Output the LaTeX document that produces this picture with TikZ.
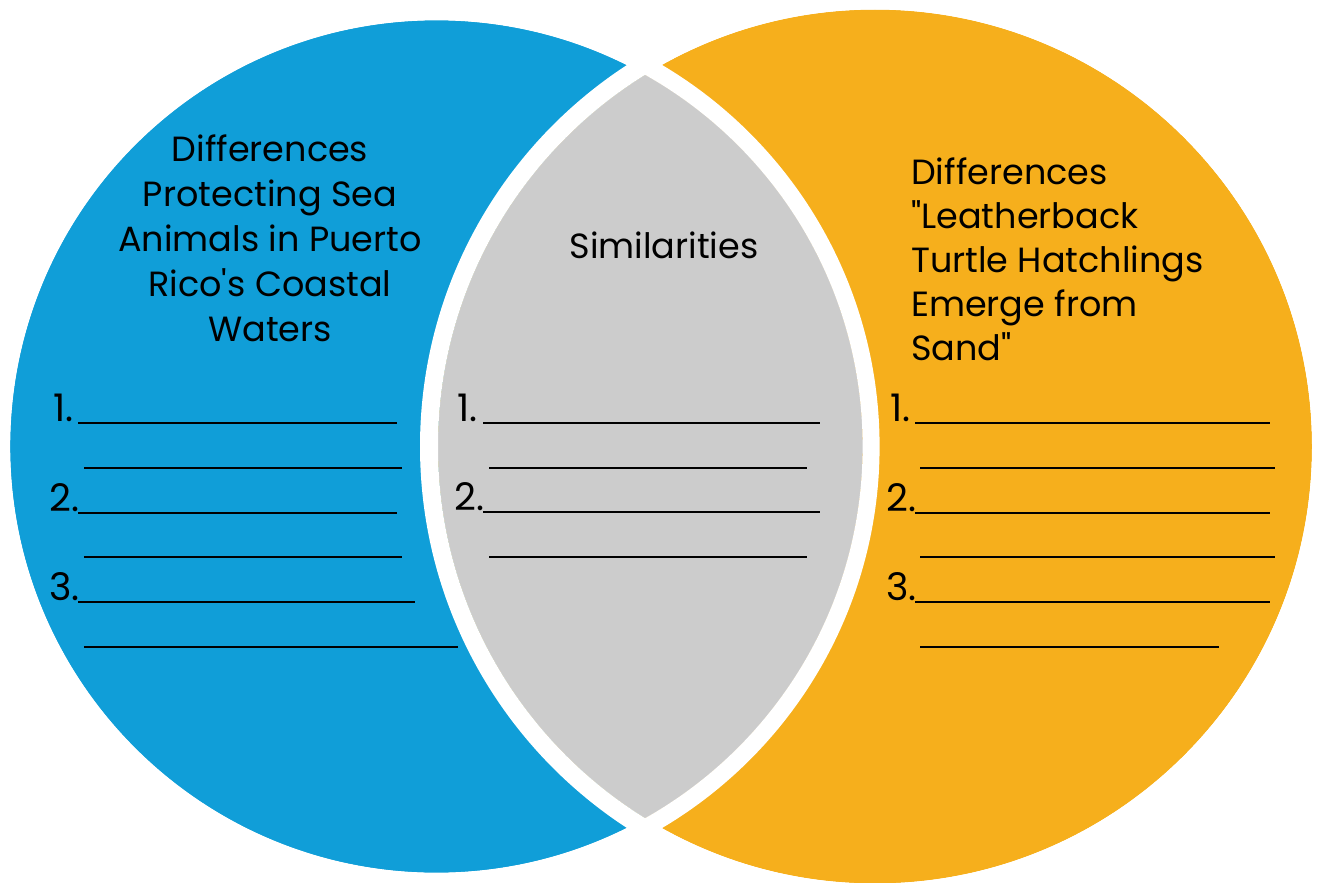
\documentclass[tikz,border=0pt]{standalone}
\usepackage{fontspec}
\setmainfont[Ligatures=TeXOff]{Poppins}
\usepackage{tikz}
\usepackage{xcolor}
\usetikzlibrary{positioning}
\definecolor{myblue}{RGB}{16, 158, 216}
\definecolor{myorange}{RGB}{246, 175, 28}
\definecolor{mygrey}{RGB}{204, 204, 204}

\begin{document}
\begin{tikzpicture}[x=1pt,y=-1pt,
          title/.style={font=\fontsize{35}{45}\selectfont,inner sep=0pt},
          num/.style={font=\fontsize{38}{45}\selectfont,inner sep=0pt,anchor=base west},
          blank/.style={draw,line width=2pt}]
        \useasboundingbox (0,0) rectangle (1317,883);
        % the two sets and their overlap
        \fill[myblue] (436.4,446.5) circle (426.4);
        \fill[myorange] (875,446.5) circle (437);
        \begin{scope}
          \clip (436.4,446.5) circle (426.4);
          \fill[mygrey] (875,446.5) circle (437);
        \end{scope}
        \draw[white,line width=18pt] (875,446.5) circle (446);
        \draw[white,line width=17pt] (436.4,446.5) circle (434.7);
        % headings (base = last line)
        \node[title,align=center,anchor=base](left) at (270,341){
          Differences\\
          Protecting Sea\\
          Animals in Puerto\\
          Rico's Coastal\\
          Waters};
        \node[title,anchor=base](mid) at (664,258){Similarities};
        \node[title,align=left,anchor=base west,
              font=\fontsize{35}{44}\selectfont](right) at (911,360){
          Differences\\
          "Leatherback\\
          Turtle Hatchlings\\
          Emerge from\\
          Sand"};
        % numbered blanks
        \node[num](l1) at (53,421){1.};
        \node[num](l2) at (49,511){2.};
        \node[num](l3) at (49,600){3.};
        \node[num](m1) at (457,421){1.};
        \node[num](m2) at (454,510){2.};
        \node[num](r1) at (890,421){1.};
        \node[num](r2) at (886,511){2.};
        \node[num](r3) at (886,600){3.};
        \draw[blank] (78,423)--(397,423) (84,468)--(402,468)
          (78,513)--(397,513) (84,557)--(402,557)
          (78,602)--(415,602) (84,647)--(458,647);
        \draw[blank] (483,423)--(820,423) (489,468)--(807,468)
          (483,512)--(820,512) (489,557)--(807,557);
        \draw[blank] (915,423)--(1270,423) (920,468)--(1275,468)
          (915,513)--(1270,513) (920,557)--(1275,557)
          (915,602)--(1270,602) (920,647)--(1219,647);
      \end{tikzpicture}
\end{document}
